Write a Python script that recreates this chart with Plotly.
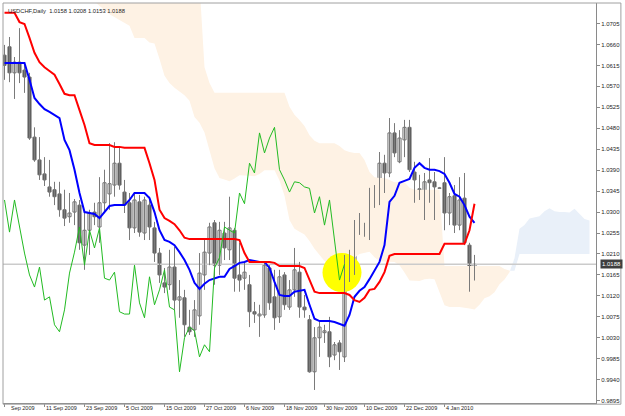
import plotly.graph_objects as go

title_text = "USDCHF,Daily  1.0158 1.0208 1.0153 1.0188"

opens = [1.0637, 1.0655, 1.0599, 1.0622, 1.0605, 1.0590, 1.0461, 1.0412, 1.0382, 1.0354,
         1.0348, 1.0339, 1.0305, 1.0290, 1.0300, 1.0315, 1.0229, 1.0261, 1.0300, 1.0268,
         1.0320, 1.0339, 1.0358, 1.0405, 1.0343, 1.0320, 1.0266, 1.0322, 1.0255, 1.0315,
         1.0266, 1.0212, 1.0148, 1.0144, 1.0182, 1.0111, 1.0116, 1.0053, 1.0047, 1.0077,
         1.0165, 1.0212, 1.0277, 1.0186, 1.0255, 1.0219, 1.0261, 1.0165, 1.0158, 1.0144,
         1.0086, 1.0077, 1.0079, 1.0180, 1.0118, 1.0075, 1.0165, 1.0096, 1.0133, 1.0171,
         1.0096, 1.0069, 0.9957, 1.0030, 1.0041, 1.0043, 0.9993, 1.0019, 0.9989, 1.0161,
         1.0193, 1.0268, 1.0261, 1.0257, 1.0341, 1.0320, 1.0405, 1.0384, 1.0470, 1.0408,
         1.0455, 1.0482, 1.0386, 1.0350, 1.0343, 1.0369, 1.0365, 1.0352, 1.0363, 1.0298,
         1.0335, 1.0272, 1.0330, 1.0229, 1.0158]
highs = [1.0659, 1.0676, 1.0633, 1.0695, 1.0620, 1.0599, 1.0482, 1.0461, 1.0418, 1.0412,
         1.0365, 1.0365, 1.0348, 1.0341, 1.0328, 1.0326, 1.0300, 1.0305, 1.0320, 1.0375,
         1.0391, 1.0448, 1.0450, 1.0438, 1.0369, 1.0341, 1.0341, 1.0337, 1.0333, 1.0333,
         1.0279, 1.0223, 1.0180, 1.0219, 1.0225, 1.0154, 1.0133, 1.0090, 1.0111, 1.0212,
         1.0240, 1.0277, 1.0283, 1.0279, 1.0279, 1.0333, 1.0266, 1.0234, 1.0193, 1.0165,
         1.0107, 1.0101, 1.0193, 1.0186, 1.0176, 1.0176, 1.0171, 1.0154, 1.0223, 1.0193,
         1.0122, 1.0079, 1.0053, 1.0064, 1.0058, 1.0075, 1.0021, 1.0025, 1.0208, 1.0219,
         1.0283, 1.0298, 1.0277, 1.0352, 1.0358, 1.0429, 1.0423, 1.0502, 1.0491, 1.0476,
         1.0498, 1.0498, 1.0408, 1.0380, 1.0384, 1.0416, 1.0386, 1.0354, 1.0418, 1.0341,
         1.0358, 1.0375, 1.0384, 1.0234, 1.0208]
lows = [1.0584, 1.0579, 1.0543, 1.0577, 1.0556, 1.0455, 1.0408, 1.0369, 1.0356, 1.0333,
        1.0315, 1.0290, 1.0270, 1.0277, 1.0272, 1.0219, 1.0176, 1.0208, 1.0272, 1.0234,
        1.0300, 1.0305, 1.0333, 1.0348, 1.0298, 1.0240, 1.0255, 1.0247, 1.0240, 1.0240,
        1.0193, 1.0148, 1.0126, 1.0133, 1.0090, 1.0073, 1.0032, 1.0036, 1.0032, 1.0058,
        1.0133, 1.0186, 1.0144, 1.0165, 1.0197, 1.0197, 1.0129, 1.0129, 1.0133, 1.0053,
        1.0062, 1.0032, 1.0073, 1.0090, 1.0047, 1.0062, 1.0090, 1.0090, 1.0118, 1.0073,
        1.0073, 0.9955, 0.9918, 0.9989, 1.0019, 0.9967, 0.9982, 0.9961, 0.9978, 1.0150,
        1.0165, 1.0251, 1.0247, 1.0240, 1.0309, 1.0315, 1.0341, 1.0375, 1.0418, 1.0405,
        1.0418, 1.0386, 1.0320, 1.0326, 1.0283, 1.0320, 1.0283, 1.0350, 1.0261, 1.0272,
        1.0255, 1.0261, 1.0229, 1.0129, 1.0153]
closes = [1.0615, 1.0599, 1.0622, 1.0599, 1.0590, 1.0459, 1.0412, 1.0380, 1.0369, 1.0343,
          1.0333, 1.0305, 1.0287, 1.0298, 1.0322, 1.0234, 1.0261, 1.0298, 1.0290, 1.0320,
          1.0363, 1.0361, 1.0405, 1.0358, 1.0315, 1.0266, 1.0326, 1.0257, 1.0326, 1.0268,
          1.0212, 1.0165, 1.0139, 1.0182, 1.0111, 1.0118, 1.0058, 1.0043, 1.0090, 1.0169,
          1.0214, 1.0268, 1.0186, 1.0261, 1.0223, 1.0266, 1.0158, 1.0154, 1.0171, 1.0086,
          1.0081, 1.0081, 1.0186, 1.0105, 1.0073, 1.0161, 1.0101, 1.0133, 1.0176, 1.0096,
          1.0090, 0.9957, 1.0030, 1.0053, 1.0045, 0.9989, 1.0015, 1.0000, 1.0180, 1.0202,
          1.0268, 1.0261, 1.0255, 1.0341, 1.0318, 1.0405, 1.0384, 1.0470, 1.0427, 1.0459,
          1.0482, 1.0391, 1.0369, 1.0343, 1.0365, 1.0363, 1.0354, 1.0351, 1.0298, 1.0333,
          1.0272, 1.0326, 1.0234, 1.0154, 1.0188]

tenkan = [1.0620, 1.0620, 1.0620, 1.0620, 1.0620, 1.0584, 1.0545, 1.0532, 1.0521, 1.0515,
          1.0509, 1.0502, 1.0455, 1.0433, 1.0391, 1.0341, 1.0300, 1.0298, 1.0296, 1.0287,
          1.0300, 1.0313, 1.0315, 1.0315, 1.0315, 1.0326, 1.0341, 1.0341, 1.0341, 1.0330,
          1.0300, 1.0261, 1.0240, 1.0236, 1.0229, 1.0214, 1.0197, 1.0176, 1.0148, 1.0135,
          1.0146, 1.0154, 1.0158, 1.0161, 1.0161, 1.0178, 1.0184, 1.0191, 1.0193, 1.0197,
          1.0195, 1.0193, 1.0193, 1.0180, 1.0150, 1.0122, 1.0120, 1.0120, 1.0129, 1.0131,
          1.0133, 1.0101, 1.0071, 1.0066, 1.0066, 1.0066, 1.0064, 1.0060, 1.0056, 1.0079,
          1.0118, 1.0131, 1.0139, 1.0156, 1.0176, 1.0193, 1.0229, 1.0322, 1.0335, 1.0363,
          1.0367, 1.0371, 1.0395, 1.0405, 1.0395, 1.0391, 1.0391, 1.0388, 1.0382, 1.0363,
          1.0339, 1.0333, 1.0315, 1.0290, 1.0277]
kijun = [1.0728, 1.0728, 1.0728, 1.0708, 1.0704, 1.0674, 1.0642, 1.0622, 1.0611, 1.0603,
         1.0595, 1.0575, 1.0554, 1.0551, 1.0551, 1.0519, 1.0487, 1.0448, 1.0444, 1.0444,
         1.0444, 1.0444, 1.0440, 1.0440, 1.0438, 1.0438, 1.0438, 1.0438, 1.0438, 1.0405,
         1.0369, 1.0305, 1.0287, 1.0281, 1.0274, 1.0261, 1.0245, 1.0242, 1.0242, 1.0242,
         1.0242, 1.0242, 1.0242, 1.0242, 1.0242, 1.0242, 1.0242, 1.0240, 1.0212, 1.0193,
         1.0193, 1.0193, 1.0193, 1.0193, 1.0191, 1.0184, 1.0184, 1.0184, 1.0184, 1.0184,
         1.0180, 1.0154, 1.0129, 1.0126, 1.0126, 1.0126, 1.0126, 1.0126, 1.0126, 1.0122,
         1.0111, 1.0107, 1.0116, 1.0133, 1.0135, 1.0150, 1.0171, 1.0206, 1.0210, 1.0210,
         1.0210, 1.0210, 1.0210, 1.0210, 1.0210, 1.0210, 1.0210, 1.0210, 1.0232, 1.0232,
         1.0232, 1.0232, 1.0232, 1.0261, 1.0318]

cloud_start = 18
span_a = [1.0752, 1.0743, 1.0734, 1.0725, 1.0719, 1.0713, 1.0706, 1.0700, 1.0674, 1.0674,
          1.0674, 1.0664, 1.0662, 1.0629, 1.0593, 1.0577, 1.0567, 1.0559, 1.0551, 1.0539,
          1.0504, 1.0492, 1.0471, 1.0430, 1.0394, 1.0373, 1.0370, 1.0366, 1.0372, 1.0379,
          1.0378, 1.0378, 1.0377, 1.0382, 1.0390, 1.0390, 1.0390, 1.0368, 1.0335, 1.0283,
          1.0264, 1.0258, 1.0252, 1.0238, 1.0221, 1.0209, 1.0195, 1.0189, 1.0194, 1.0198,
          1.0201, 1.0202, 1.0202, 1.0210, 1.0213, 1.0215, 1.0203, 1.0195, 1.0194, 1.0193,
          1.0193, 1.0186, 1.0170, 1.0153, 1.0152, 1.0152, 1.0156, 1.0157, 1.0156, 1.0128,
          1.0100, 1.0096, 1.0096, 1.0096, 1.0095, 1.0093, 1.0091, 1.0101, 1.0115, 1.0119,
          1.0128, 1.0145, 1.0155, 1.0171, 1.0201, 1.0264, 1.0272, 1.0286, 1.0288, 1.0291,
          1.0302, 1.0308, 1.0302, 1.0300, 1.0300, 1.0299, 1.0307, 1.0297, 1.0285, 1.0282]
span_b = [1.0790] * 22 + [1.0611, 1.0577] + [1.0556] * 15 + [
          1.0526, 1.0509, 1.0498, 1.0485, 1.0465, 1.0453, 1.0448, 1.0448, 1.0448, 1.0448,
          1.0442, 1.0433, 1.0429, 1.0427, 1.0427, 1.0412, 1.0386, 1.0375, 1.0373, 1.0373,
          1.0369, 1.0364, 1.0364, 1.0364, 1.0352] + [1.0348] * 6 + [1.0184] * 12 + [
          1.0178, 1.0174, 1.0174] + [1.0210] * 15

date_tick_bars = [0, 8, 16, 24, 32, 40, 48, 56, 64, 72, 80, 88]
date_labels = ["Sep 2009", "11 Sep 2009", "23 Sep 2009", "5 Oct 2009", "15 Oct 2009",
               "27 Oct 2009", "6 Nov 2009", "18 Nov 2009", "30 Nov 2009", "10 Dec 2009",
               "22 Dec 2009", "4 Jan 2010"]
price_ticks = [1.0705, 1.0660, 1.0615, 1.0570, 1.0525, 1.0480, 1.0435, 1.0390, 1.0345,
               1.0300, 1.0255, 1.0210, 1.0165, 1.0120, 1.0075, 1.0030, 0.9985, 0.9940, 0.9895]

marked_bar = 67.5
marked_price = 1.0170
chikou_shift = 26

FONT = "Liberation Sans"
PEACH = "#FEF2E4"
LIGHTBLUE = "#E9F0F9"
TXT = "#1E1E1E"

fig = go.Figure()

# ---- cloud polygons ----
xs = list(range(cloud_start, cloud_start + len(span_a)))
pts = []
for k in range(len(xs)):
    a, b = span_a[k], span_b[k]
    pts.append((xs[k], a, b))
    if k + 1 < len(xs):
        d0 = b - a
        d1 = span_b[k + 1] - span_a[k + 1]
        if d0 * d1 < 0:
            t = d0 / (d0 - d1)
            ym = a + t * (span_a[k + 1] - a)
            pts.append((xs[k] + t, ym, ym))

runs = []
cur, cur_s = [], None
for p in pts:
    s = (p[2] > p[1]) - (p[2] < p[1])
    if s == 0:
        cur.append(p)
        if cur_s is not None:
            runs.append((cur_s, cur))
        cur, cur_s = [p], None
        continue
    if cur_s is None:
        cur_s = s
    elif s != cur_s:
        runs.append((cur_s, cur))
        cur = []
        cur_s = s
    cur.append(p)
if cur and cur_s is not None:
    runs.append((cur_s, cur))

poly = {1: ([], []), -1: ([], [])}
for s, run in runs:
    px_ = [p[0] for p in run]
    up = [max(p[1], p[2]) for p in run]
    lo = [min(p[1], p[2]) for p in run]
    X, Y = poly[s]
    X.extend(px_ + px_[::-1] + [px_[0], None])
    Y.extend(up + lo[::-1] + [up[0], None])

for s, col in ((1, PEACH), (-1, LIGHTBLUE)):
    X, Y = poly[s]
    if X:
        fig.add_trace(go.Scatter(x=X, y=Y, mode="lines", fill="toself", fillcolor=col,
                                 line=dict(width=0, color=col), hoverinfo="skip"))

# ---- current price line ----
fig.add_trace(go.Scatter(x=[-2, 125], y=[closes[-1], closes[-1]], mode="lines",
                         line=dict(color="#CBCBCB", width=1.6), hoverinfo="skip"))

# ---- yellow marker circle ----
fig.add_trace(go.Scatter(x=[marked_bar], y=[marked_price], mode="markers",
                         marker=dict(size=39, color="#FFFF00", line=dict(width=0)),
                         hoverinfo="skip"))

# ---- candles ----
n = len(closes)
idx = list(range(n))
wx, wy = [], []
for i in idx:
    wx += [i, i, None]
    wy += [lows[i], highs[i], None]
fig.add_trace(go.Scatter(x=wx, y=wy, mode="lines", line=dict(color="#7A7A7A", width=1),
                         hoverinfo="skip"))

base, height, fillc = [], [], []
for i in idx:
    o, c = opens[i], closes[i]
    lo_, hi_ = min(o, c), max(o, c)
    h = max(hi_ - lo_, 0.00005)
    base.append(lo_)
    height.append(h)
    fillc.append("#FFFFFF" if c >= o else "#565656")
fig.add_trace(go.Bar(x=idx, y=height, base=base, width=0.62,
                     marker=dict(color=fillc, line=dict(color="#6E6E6E", width=1)),
                     hoverinfo="skip"))

# ---- indicator lines ----
fig.add_trace(go.Scatter(x=idx, y=tenkan, mode="lines",
                         line=dict(color="#0000FF", width=2), hoverinfo="skip"))
fig.add_trace(go.Scatter(x=idx, y=kijun, mode="lines",
                         line=dict(color="#FF0000", width=2), hoverinfo="skip"))
chx = [i - chikou_shift for i in idx[chikou_shift:]]
fig.add_trace(go.Scatter(x=chx, y=closes[chikou_shift:], mode="lines",
                         line=dict(color="#22BB22", width=1), hoverinfo="skip"))

# ---- annotations ----
ann = []
ann.append(dict(xref="paper", yref="paper", x=0.005, y=0.98, text=title_text,
                showarrow=False, xanchor="left", yanchor="middle",
                font=dict(family=FONT, size=5.8, color=TXT)))
for b, lab in zip(date_tick_bars, date_labels):
    ann.append(dict(xref="x", yref="paper", x=b, y=-0.0125, text=lab, showarrow=False,
                    xanchor="left", yanchor="middle", xshift=(4 if b == 0 else -1),
                    font=dict(family=FONT, size=5.5, color=TXT)))
ann.append(dict(xref="paper", yref="y", x=1.007, y=closes[-1], text=f"{closes[-1]:.4f}",
                showarrow=False, xanchor="left", yanchor="middle", bgcolor="#3F3F3F",
                borderpad=1, font=dict(family=FONT, size=6, color="#FFFFFF")))

fig.update_layout(
    width=625, height=416,
    margin=dict(l=3, r=29, t=3, b=13),
    paper_bgcolor="white", plot_bgcolor="white",
    showlegend=False, barmode="overlay",
    annotations=ann,
    shapes=[dict(type="rect", xref="paper", yref="paper", x0=0, y0=-0.003, x1=1.042, y1=1,
                 line=dict(color="#A0A0A0", width=1), layer="above")],
    xaxis=dict(range=[-0.3, 118.3], showgrid=False, zeroline=False, showline=True,
               linecolor="#8A8A8A", linewidth=1, tickvals=date_tick_bars,
               ticktext=[""] * len(date_tick_bars), ticks="outside", ticklen=3,
               tickcolor="#8A8A8A", fixedrange=True),
    yaxis=dict(range=[0.9890, 1.0749], side="right", showgrid=False, zeroline=False,
               showline=True, linecolor="#8A8A8A", linewidth=1, tickvals=price_ticks,
               ticktext=[f"{v:.4f}" for v in price_ticks], ticks="outside", ticklen=3,
               tickcolor="#8A8A8A", tickfont=dict(family=FONT, size=6, color=TXT),
               fixedrange=True),
)

fig.write_html("out.html", include_plotlyjs=True, config={"displayModeBar": False})
